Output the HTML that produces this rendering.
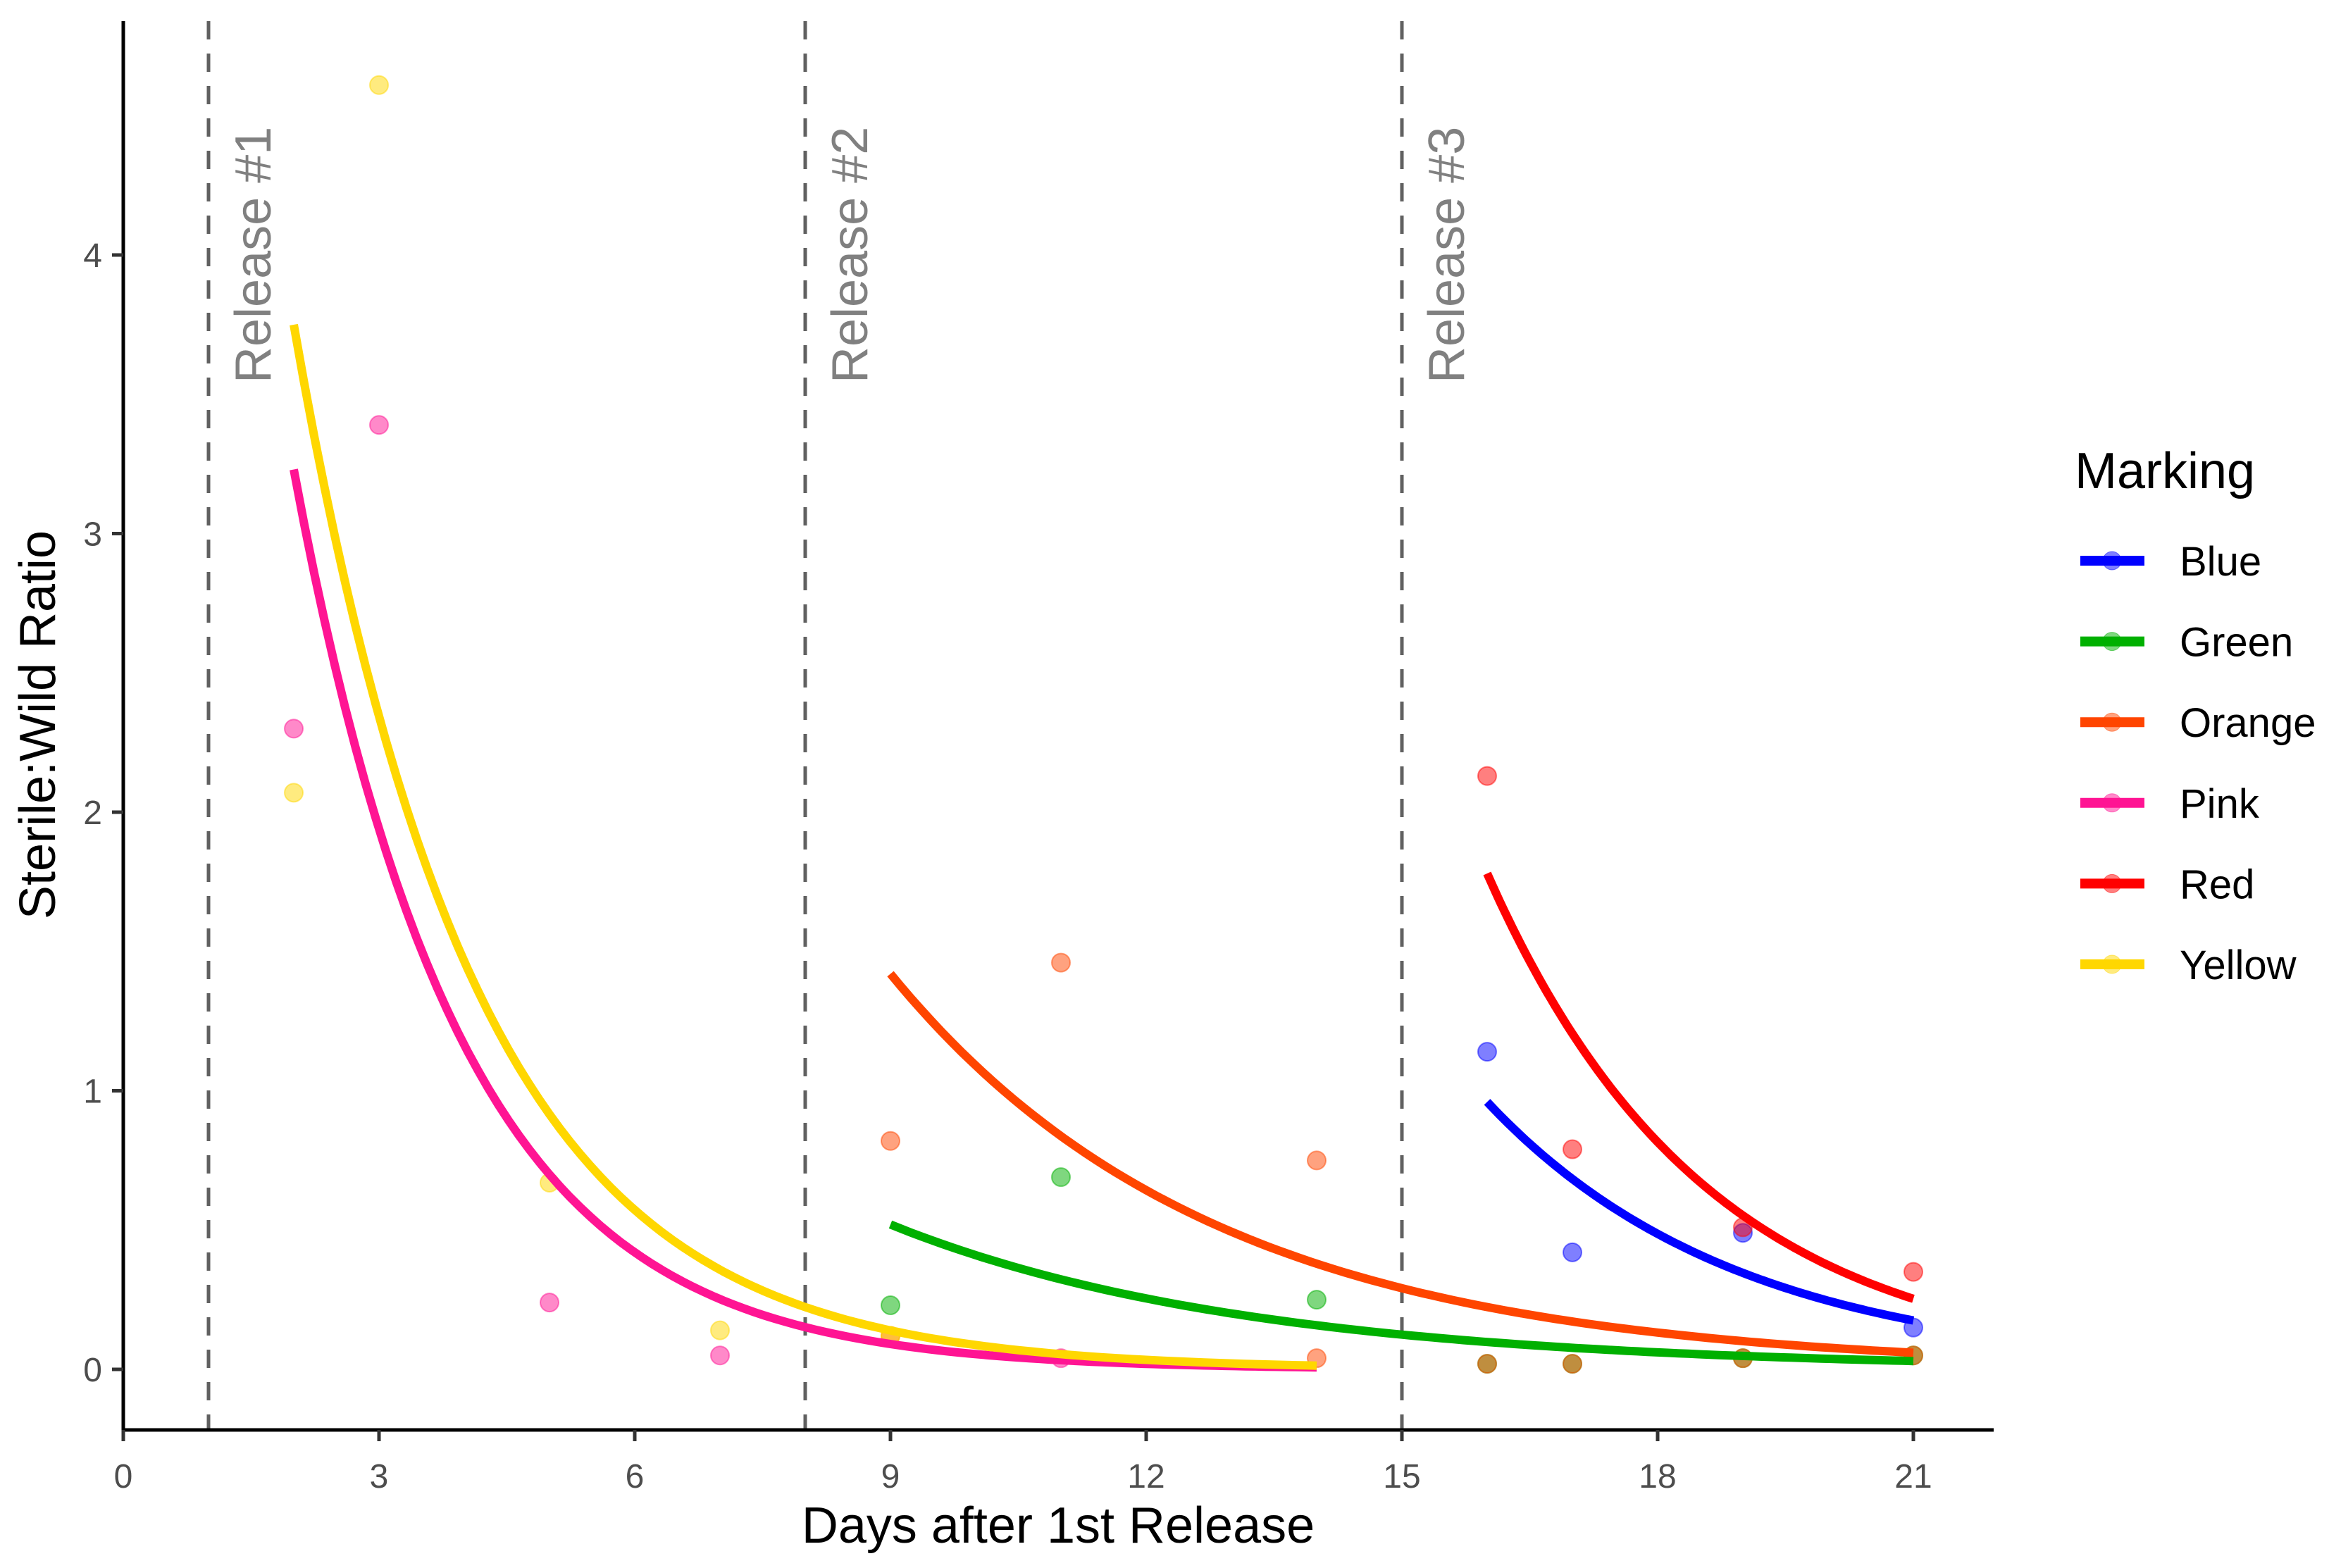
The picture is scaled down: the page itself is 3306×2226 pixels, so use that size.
<!DOCTYPE html>
<html><head><meta charset="utf-8"><style>
html,body{margin:0;padding:0;background:#fff;}
svg{display:block;font-family:"Liberation Sans",Arial,sans-serif;}
</style></head><body>
<svg id="chart" width="3306" height="2226" viewBox="0 0 3306 2226" xmlns="http://www.w3.org/2000/svg">
<rect width="3306" height="2226" fill="#fff"/>
<g id="plot"></g>
</svg>
<script>
const seriesNames = ["Blue","Green","Orange","Pink","Red","Yellow"];
const seriesColors = ["#0000FF","#00B000","#FF4500","#FF1493","#FF0000","#FFD700"];
const pointDays = {
  Blue:[16,17,19,21], Green:[9,11,14,16,17,19,21], Orange:[9,11,14,9,14,16,17,19,21],
  Pink:[2,3,5,7,11], Red:[16,17,19,21], Yellow:[2,3,5,7,9]
};
const pointValues = {
  Blue:[1.14,0.42,0.49,0.15], Green:[0.23,0.69,0.25,0.02,0.02,0.04,0.05], Orange:[0.82,1.46,0.75,0.12,0.04,0.02,0.02,0.04,0.05],
  Pink:[2.30,3.39,0.24,0.05,0.04], Red:[2.13,0.79,0.51,0.35], Yellow:[2.07,4.61,0.67,0.14,0.12]
};
const fitStart = [16,9,9,2,16,2];
const fitEnd = [21,21,21,14,21,14];
const fitA = [0.96,0.52,1.42,3.23,1.78,3.75];
const fitB = [0.34,0.238,0.264,0.51,0.39,0.47];
const releaseDays = [1,8,15];
const releaseLabels = ["Release #1","Release #2","Release #3"];
const xTicks = [0,3,6,9,12,15,18,21];
const yTicks = [0,1,2,3,4];

const NS="http://www.w3.org/2000/svg";
const g=document.getElementById('plot');
const X0=175, XS=121, Y0=1944, YS=395.5;
const sx=d=>X0+d*XS, sy=v=>Y0-v*YS;
function el(t,a,p){const e=document.createElementNS(NS,t);for(const k in a)e.setAttribute(k,a[k]);(p||g).appendChild(e);return e;}

releaseDays.forEach((d,i)=>{
  const l=el('line',{x1:sx(d),x2:sx(d),y1:30,y2:2028,stroke:'#606060','stroke-width':5,'stroke-dasharray':'26,20'});
  
  
  const t=el('text',{x:0,y:0,transform:`translate(${sx(d)+88},544) rotate(-90)`,'font-size':72,fill:'#808080'});
  t.textContent=releaseLabels[i];
  
  
});

seriesNames.forEach((n,i)=>{
  pointDays[n].forEach((d,j)=>{
    const c=el('circle',{cx:sx(d),cy:sy(pointValues[n][j]),r:13,fill:seriesColors[i],'fill-opacity':0.5,stroke:seriesColors[i],'stroke-opacity':0.5,'stroke-width':2});
    
    
  });
});
seriesNames.forEach((n,i)=>{
  let pts=[];
  for(let k=0;k<=100;k++){const d=fitStart[i]+(fitEnd[i]-fitStart[i])*k/100;const v=fitA[i]*Math.exp(-fitB[i]*(d-fitStart[i]));pts.push(sx(d).toFixed(1)+','+sy(v).toFixed(1));}
  const p=el('polyline',{points:pts.join(' '),fill:'none',stroke:seriesColors[i],'stroke-width':12});
  
  
});

const ya=el('line',{x1:X0,x2:X0,y1:30,y2:2032,stroke:'#000','stroke-width':5});


const xa=el('line',{x1:X0-2,x2:2830,y1:2030,y2:2030,stroke:'#000','stroke-width':5});


xTicks.forEach(v=>{
  el('line',{x1:sx(v),x2:sx(v),y1:2030,y2:2046,stroke:'#333','stroke-width':5});
  const t=el('text',{x:sx(v),y:2112,'font-size':48,fill:'#4d4d4d','text-anchor':'middle'});
  t.textContent=v;
  
  
});
yTicks.forEach(v=>{
  el('line',{x1:X0-16,x2:X0,y1:sy(v),y2:sy(v),stroke:'#333','stroke-width':5});
  const t=el('text',{x:X0-30,y:sy(v)+17,'font-size':48,fill:'#4d4d4d','text-anchor':'end'});
  t.textContent=v;
  
  
});
const xt=el('text',{x:1502,y:2190,'font-size':72,fill:'#000','text-anchor':'middle'});
xt.textContent='Days after 1st Release';


const yt=el('text',{x:0,y:0,transform:'translate(78,1029) rotate(-90)','font-size':72,fill:'#000','text-anchor':'middle'});
yt.textContent='Sterile:Wild Ratio';



const lt=el('text',{x:2945,y:693,'font-size':72,fill:'#000'});
lt.textContent='Marking';


seriesNames.forEach((n,i)=>{
  const y=796+i*114.6;
  const lg=el('g',{});
  
  
  el('line',{x1:2953,x2:3044,y1:y,y2:y,stroke:seriesColors[i],'stroke-width':14},lg);
  el('circle',{cx:2998,cy:y,r:13,fill:seriesColors[i],'fill-opacity':0.5,stroke:seriesColors[i],'stroke-opacity':0.5},lg);
  const t=el('text',{x:3094,y:y+21,'font-size':58,fill:'#000'},lg);
  t.textContent=n;
});
</script>
</body></html>
